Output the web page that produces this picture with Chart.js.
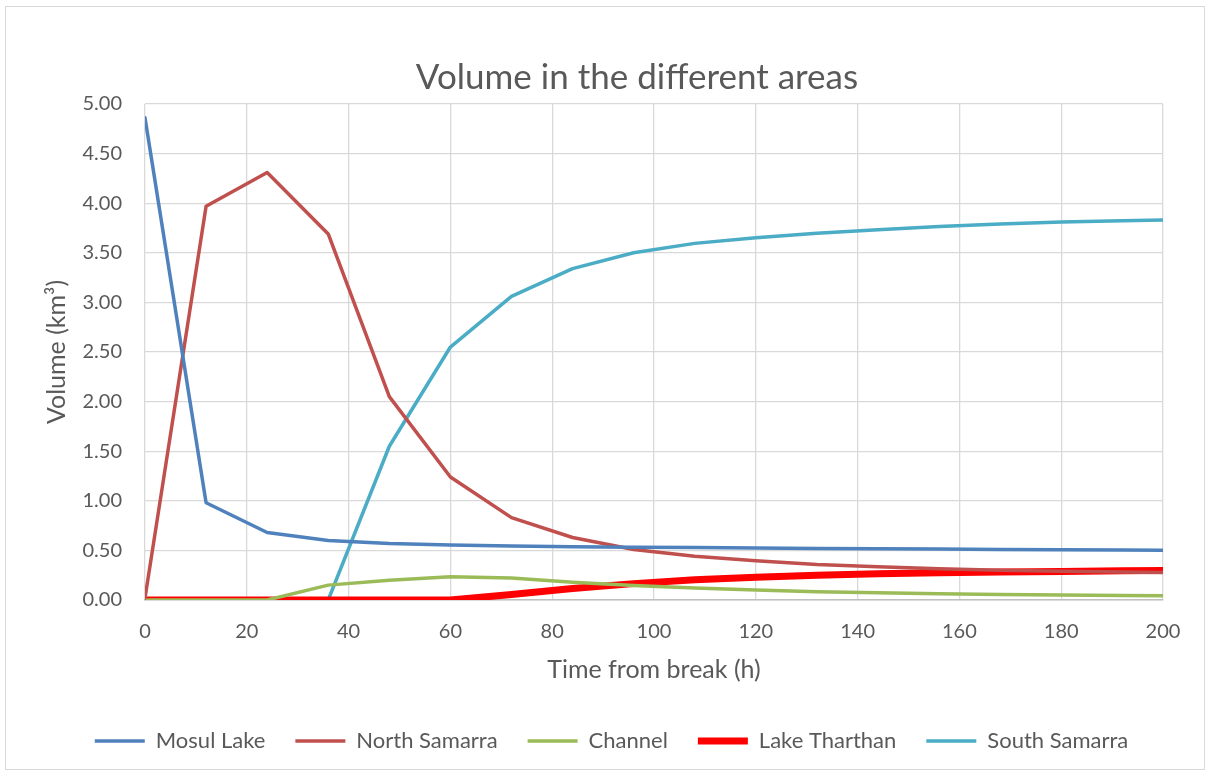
<!DOCTYPE html>
<html>
<head>
<meta charset="utf-8">
<script src="https://cdn.jsdelivr.net/npm/chart.js@4"></script>
<style>
  html, body { margin: 0; padding: 0; background: #fff; }
  #wrap { position: relative; width: 1209px; height: 775px; }
  #frame { position: absolute; left: 5px; top: 6px; width: 1200px; height: 764px; border: 1px solid #d9d9d9; box-sizing: border-box; pointer-events: none; }
  canvas { position: absolute; left: 0; top: 0; }
</style>
</head>
<body>
<div id="wrap">
  <canvas id="chart" width="1209" height="775"></canvas>
  <div id="frame"></div>
</div>
<script>
// time from break (h)
const hours = [0, 12, 24, 36, 48, 60, 72, 84, 96, 108, 120, 132, 144, 156, 168, 180, 192, 204];

const mosulLake     = [4.86, 0.98, 0.68, 0.60, 0.57, 0.555, 0.545, 0.538, 0.533, 0.528, 0.524, 0.520, 0.516, 0.513, 0.510, 0.507, 0.504, 0.501];
const northSamarra  = [0.02, 3.97, 4.31, 3.69, 2.05, 1.24, 0.83, 0.63, 0.51, 0.44, 0.395, 0.357, 0.335, 0.315, 0.300, 0.290, 0.282, 0.275];
const channel       = [0, 0, 0, 0.15, 0.20, 0.235, 0.222, 0.18, 0.145, 0.12, 0.10, 0.083, 0.072, 0.063, 0.056, 0.051, 0.046, 0.041];
const lakeTharthan  = [0, 0, 0, 0, 0, 0, 0.055, 0.115, 0.165, 0.205, 0.23, 0.25, 0.264, 0.275, 0.282, 0.288, 0.294, 0.298];
const southSamarra  = [0, 0, 0, 0, 1.55, 2.55, 3.06, 3.34, 3.50, 3.595, 3.652, 3.696, 3.733, 3.765, 3.79, 3.81, 3.823, 3.835];

const yTicks = [0, 0.5, 1, 1.5, 2, 2.5, 3, 3.5, 4, 4.5, 5];

const textColor = "#595959";
const fontFamily = "Lato, 'Open Sans', sans-serif";
const padLeft = 60;

const pts = vals => vals.map((v, i) => ({ x: hours[i], y: v }));

const series = [
  { label: "Mosul Lake", data: mosulLake, color: "#4f81bd", width: 3.5 },
  { label: "North Samarra", data: northSamarra, color: "#c0504d", width: 3.5 },
  { label: "Channel", data: channel, color: "#9bbb59", width: 3.5 },
  { label: "Lake Tharthan", data: lakeTharthan, color: "#ff0000", width: 7 },
  { label: "South Samarra", data: southSamarra, color: "#4bacc6", width: 3.5 }
];

// nudge the title a bit left of the plot centre, like the original
const titleShift = {
  id: "titleShift",
  afterLayout: chart => {
    if (chart.titleBlock) {
      chart.titleBlock.left -= 17;
      chart.titleBlock.right -= 17;
    }
  }
};

new Chart(document.getElementById("chart"), {
  type: "line",
  data: {
    datasets: series.map(s => ({
      label: s.label,
      data: pts(s.data),
      borderColor: s.color,
      backgroundColor: s.color,
      borderWidth: s.width,
      borderCapStyle: "round",
      borderJoinStyle: "round",
      pointRadius: 0,
      tension: 0
    }))
  },
  options: {
    responsive: false,
    animation: false,
    layout: { padding: { left: padLeft, right: 46, top: 0, bottom: 13 } },
    plugins: {
      title: {
        display: true,
        fullSize: false,
        text: "Volume in the different areas",
        color: textColor,
        font: { family: fontFamily, size: 35, weight: "normal" },
        padding: { top: 57, bottom: 5 }
      },
      legend: {
        position: "bottom",
        labels: {
          color: textColor,
          font: { family: fontFamily, size: 22 },
          usePointStyle: true,
          pointStyle: "line",
          pointStyleWidth: 50,
          padding: 30
        }
      },
      tooltip: { enabled: false }
    },
    scales: {
      x: {
        type: "linear",
        min: 0,
        max: 200,
        ticks: { stepSize: 20, color: textColor, font: { family: fontFamily, size: 20 }, padding: 20, maxRotation: 0 },
        grid: { color: "#d9d9d9", lineWidth: 1.3, drawTicks: false },
        border: { color: "#bfbfbf", width: 1.5 },
        title: {
          display: true,
          text: "Time from break (h)",
          color: textColor,
          font: { family: fontFamily, size: 25 },
          padding: { top: 0, bottom: 15 }
        },
        afterFit: s => { s.height = 100; }
      },
      y: {
        min: 0,
        max: 5,
        afterBuildTicks: s => { s.ticks = yTicks.map(v => ({ value: v })); },
        ticks: { color: textColor, font: { family: fontFamily, size: 20 }, padding: 23, callback: v => v.toFixed(2) },
        grid: { color: "#d9d9d9", lineWidth: 1.3, drawTicks: false },
        border: { display: false },
        title: {
          display: true,
          text: "Volume (km³)",
          color: textColor,
          font: { family: fontFamily, size: 25 },
          padding: { top: 57 - padLeft - 15, bottom: 0 }
        },
        afterFit: s => { s.width = 145 - padLeft; }
      }
    }
  },
  plugins: [titleShift]
});
</script>
</body>
</html>
